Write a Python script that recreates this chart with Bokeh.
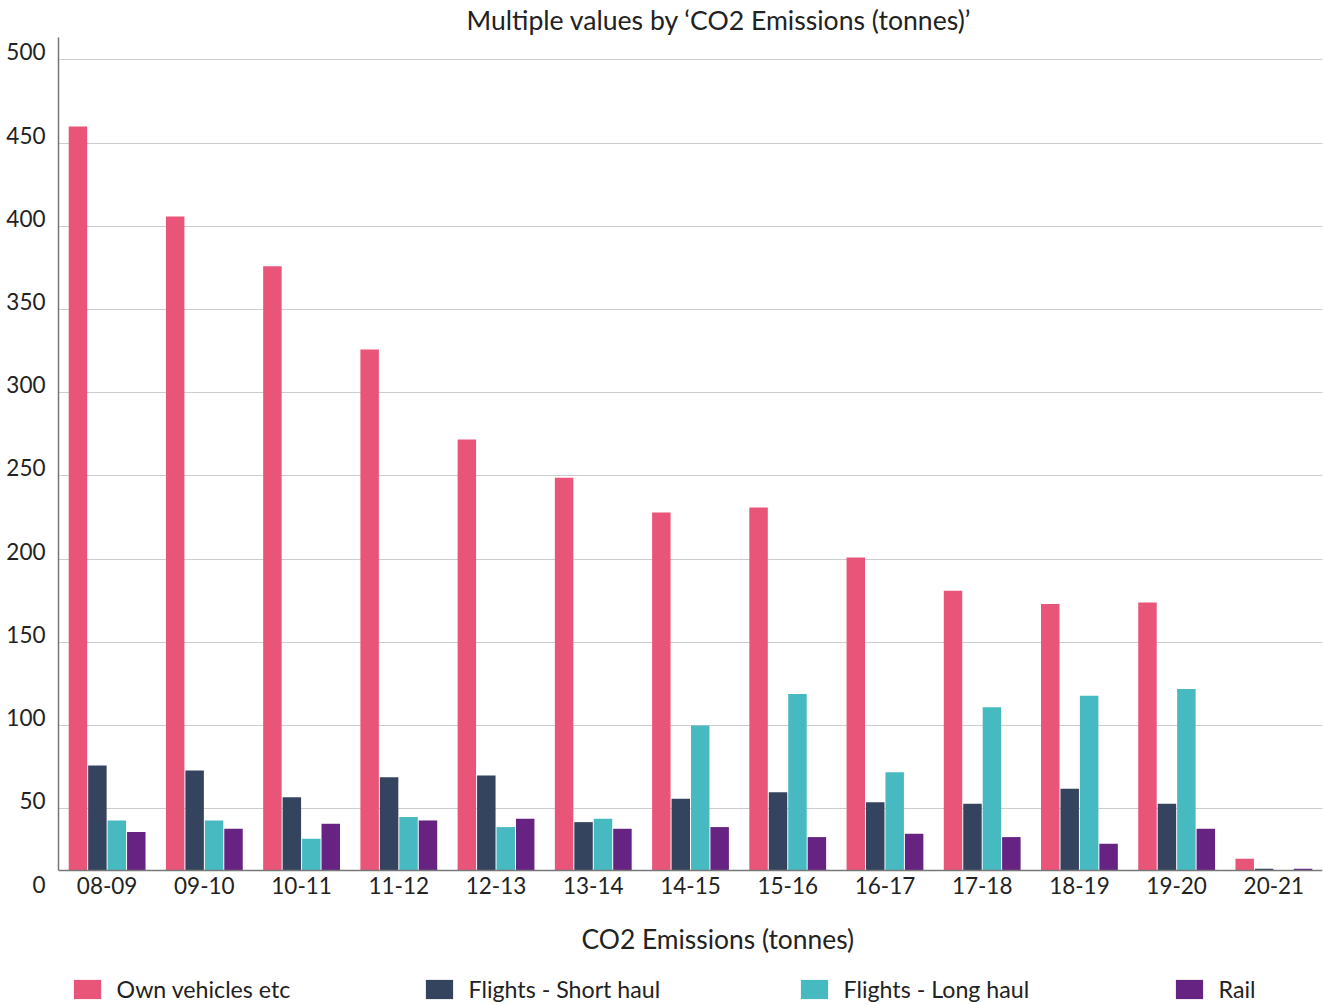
from bokeh.plotting import figure
from bokeh.models import (ColumnDataSource, Range1d, FixedTicker, Label, Legend,
                          LegendItem, LinearAxis, Grid)
from bokeh.transform import dodge
from bokeh.embed import file_html
from bokeh.resources import INLINE

# ---- data ----
years = ["08-09", "09-10", "10-11", "11-12", "12-13", "13-14", "14-15",
         "15-16", "16-17", "17-18", "18-19", "19-20", "20-21"]
own_vehicles = [460, 406, 376, 326, 272, 249, 228, 231, 201, 181, 173, 174, 20]
flights_short = [76, 73, 57, 69, 70, 42, 56, 60, 54, 53, 62, 53, 14]
flights_long = [43, 43, 32, 45, 39, 44, 100, 119, 72, 111, 118, 122, 13]
rail = [36, 38, 41, 43, 44, 38, 39, 33, 35, 33, 29, 38, 14]
series_names = ["Own vehicles etc", "Flights - Short haul", "Flights - Long haul", "Rail"]
series_keys = ["own", "short", "long", "rail"]
colors = ["#E95578", "#34445E", "#46BAC0", "#662382"]
y_ticks = [0, 50, 100, 150, 200, 250, 300, 350, 400, 450, 500]
grid_ticks = [t for t in y_ticks if t > 0]

# value axis as drawn in the reference: baseline sits at ~12.8, top at ~513.5
BASELINE = 12.8
Y_TOP = 513.5
Y_BOTTOM = -67.6          # lower frame extent (room for labels and legend)
LABEL_SHIFT = 4.8         # tick labels sit a little above their gridlines

FONT = "Lato"
TXT = "#222222"
AXIS_COL = "#777777"

src = ColumnDataSource(dict(
    x=list(range(len(years))),
    own=own_vehicles, short=flights_short, long=flights_long, rail=rail,
))

p = figure(width=1323, height=1004, output_backend="svg", toolbar_location=None,
           x_range=Range1d(-0.5, len(years) - 0.5),
           y_range=Range1d(Y_BOTTOM, Y_TOP),
           x_axis_location=None, y_axis_location=None,
           min_border_left=58, min_border_right=1, min_border_top=37,
           min_border_bottom=0)
p.outline_line_color = None
p.background_fill_color = "white"
p.border_fill_color = "white"
p.center = []   # drop default grids
p.extra_y_ranges = {"lbl": Range1d(Y_BOTTOM - LABEL_SHIFT, Y_TOP - LABEL_SHIFT)}

p.title.text = "Multiple values by \u2018CO2 Emissions (tonnes)\u2019"
p.title.align = "left"
p.title.offset = 408
p.title.text_font = FONT
p.title.text_font_style = "normal"
p.title.text_font_size = "26.6px"
p.title.text_color = TXT
p.title.standoff = 3

# grid
p.add_layout(Grid(dimension=1, ticker=FixedTicker(ticks=grid_ticks),
                  grid_line_color="#CCCCCC", grid_line_width=1))

offsets = [-0.3, -0.1, 0.1, 0.3]
renderers = []
for key, off, col in zip(series_keys, offsets, colors):
    r = p.vbar(x=dodge("x", off, range=p.x_range), top=key, bottom=BASELINE,
               width=0.19, source=src, fill_color=col, line_color=None)
    renderers.append(r)

# x axis at the baseline
xaxis = LinearAxis(fixed_location=BASELINE,
                   ticker=FixedTicker(ticks=list(range(len(years)))),
                   major_label_overrides={i: y for i, y in enumerate(years)},
                   major_tick_line_color=None, minor_tick_line_color=None,
                   axis_line_color=AXIS_COL, axis_line_width=1.5,
                   major_label_text_font=FONT, major_label_text_font_size="22.5px",
                   major_label_text_color=TXT, major_label_standoff=0)
p.add_layout(xaxis, "below")

# y axis (labels slightly above gridlines)
yaxis = LinearAxis(y_range_name="lbl", ticker=FixedTicker(ticks=y_ticks),
                   bounds=(BASELINE - LABEL_SHIFT, Y_TOP - LABEL_SHIFT),
                   major_tick_line_color=None, minor_tick_line_color=None,
                   axis_line_color=AXIS_COL, axis_line_width=1.5,
                   major_label_text_font=FONT, major_label_text_font_size="22.5px",
                   major_label_text_color=TXT, major_label_standoff=7)
p.add_layout(yaxis, "left")

# x axis title
p.add_layout(Label(x=523, x_units="screen", y=66, y_units="screen",
                   text="CO2 Emissions (tonnes)", text_align="left",
                   text_baseline="middle", text_font=FONT,
                   text_font_size="26.4px", text_color=TXT))

# legends, one per item, spread across the bottom
legend_x = [11.6, 363.6, 738.6, 1113.6]
for name, r, lx in zip(series_names, renderers, legend_x):
    lg = Legend(items=[LegendItem(label=name, renderers=[r])],
                location=(lx, 1), orientation="horizontal",
                glyph_width=34, glyph_height=24, label_standoff=13,
                label_text_font=FONT, label_text_font_size="23.2px",
                label_text_color=TXT, border_line_color=None,
                background_fill_alpha=0, padding=0, margin=0)
    p.add_layout(lg, "center")

open("out.html", "w").write(file_html(p, INLINE))
